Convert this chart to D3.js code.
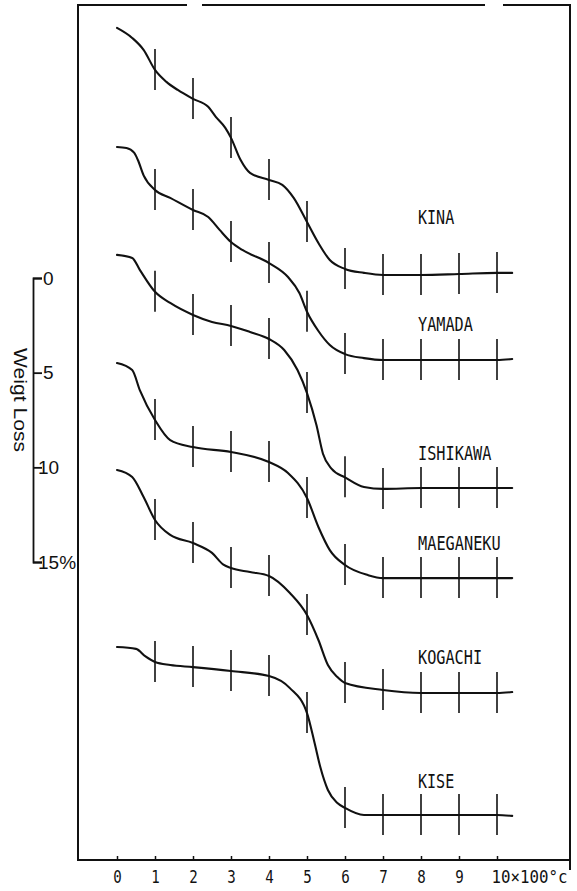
<!DOCTYPE html>
<html>
<head>
<meta charset="utf-8">
<script src="https://cdn.jsdelivr.net/npm/d3@7"></script>
<style>
  html, body { margin: 0; padding: 0; background: #fff; }
  svg { display: block; }
</style>
</head>
<body>
<svg id="chart" width="577" height="891"></svg>
<script>
// Thermogravimetric curves: weight loss (%) against temperature (x100 °C)
const seriesNames = ["KINA", "YAMADA", "ISHIKAWA", "MAEGANEKU", "KOGACHI", "KISE"];

// vertical shift of each curve, in weight-loss % units of the shared scale
const seriesShift = [-13.21, -6.92, -1.22, 4.49, 10.14, 19.49];

// [temperature (x100 °C), weight loss %]
const kina = [[0,0],[0.4,0.53],[0.7,1.16],[1,2.22],[1.3,2.85],[1.6,3.28],[2,3.75],[2.4,4.17],[2.6,4.70],[2.85,5.28],[3,5.81],[3.25,6.97],[3.5,7.66],[4,8.03],[4.35,8.29],[4.65,8.98],[5,10.25],[5.3,11.36],[5.6,12.26],[6,12.73],[6.5,12.94],[7,13.05],[8,13.05],[9,13.0],[10,12.94],[10.4,12.94]];
const yamada = [[0,0],[0.25,0.05],[0.45,0.3],[0.55,0.69],[0.7,1.5],[1,2.27],[1.4,2.69],[2,3.33],[2.4,3.70],[2.7,4.38],[3,5.02],[3.3,5.44],[4,6.13],[4.5,6.87],[4.8,7.71],[5,8.7],[5.3,9.72],[5.6,10.46],[6,10.94],[6.5,11.15],[7,11.25],[8,11.25],[9,11.25],[10,11.25],[10.4,11.2]];
const ishikawa = [[0,0],[0.4,0.16],[0.6,0.79],[1,1.95],[1.4,2.54],[2,3.17],[2.5,3.54],[3,3.75],[3.5,4.07],[4,4.44],[4.4,5.02],[4.75,6.08],[5,7.3],[5.25,9.0],[5.42,10.5],[5.65,11.3],[6,11.75],[6.5,12.26],[7,12.36],[8,12.31],[9,12.31],[10,12.31],[10.4,12.31]];
const maeganeku = [[0,0],[0.4,0.37],[0.6,1.43],[1,3.01],[1.4,4.07],[2,4.44],[3,4.70],[4,5.23],[4.5,5.81],[5,7.13],[5.3,8.66],[5.6,9.88],[6,10.67],[6.6,11.2],[7,11.36],[8,11.36],[9,11.36],[10,11.36],[10.4,11.36]];
const kogachi = [[0,0],[0.4,0.37],[0.7,1.43],[1,2.64],[1.4,3.43],[2,3.86],[2.5,4.38],[2.8,5.0],[3,5.18],[3.5,5.39],[4,5.60],[4.55,6.50],[5,7.66],[5.3,8.98],[5.55,10.30],[5.8,10.94],[6,11.25],[7,11.62],[8,11.78],[9,11.78],[10,11.78],[10.4,11.73]];
const kise = [[0,0],[0.5,0.1],[0.75,0.5],[1,0.79],[1.4,0.95],[2,1.06],[3,1.27],[4,1.53],[4.55,2.17],[5,3.49],[5.2,5.07],[5.35,6.34],[5.55,7.55],[5.8,8.24],[6,8.50],[6.5,8.87],[7,8.87],[8,8.87],[9,8.87],[10,8.87],[10.4,8.92]];
const seriesData = [kina, yamada, ishikawa, maeganeku, kogachi, kise];

// temperatures marked with a short vertical bar on every curve
const markTemps = [1, 2, 3, 4, 5, 6, 7, 8, 9, 10];

const xTicks = [0, 1, 2, 3, 4, 5, 6, 7, 8, 9, 10];
const xTickLabels = ["0", "1", "2", "3", "4", "5", "6", "7", "8", "9", "10×100°c"];
const lossTicks = [0, 5, 10, 15];
const lossTickLabels = ["0", "5", "10", "15%"];

const svg = d3.select("#chart");
const ink = "#111";

const x = d3.scaleLinear().domain([0, 10]).range([117, 497]);
const y = d3.scaleLinear().domain([0, 15]).range([278, 562]);

// frame (top edge is broken in two places)
const frame = svg.append("g").attr("stroke", ink).attr("fill", "none");
frame.append("line").attr("x1", 78).attr("x2", 78).attr("y1", 4).attr("y2", 861).attr("stroke-width", 2);
frame.append("line").attr("x1", 570).attr("x2", 570).attr("y1", 4).attr("y2", 870).attr("stroke-width", 2);
[[78, 187], [202, 485], [503, 571]].forEach(([a, b]) => {
  frame.append("line").attr("x1", a).attr("x2", b).attr("y1", 5).attr("y2", 5).attr("stroke-width", 1.8);
});
frame.append("line").attr("x1", 77).attr("x2", 571).attr("y1", 860).attr("y2", 860).attr("stroke-width", 2);

// temperature axis: small upward ticks on the bottom edge
const xAxis = d3.axisBottom(x)
  .tickValues(xTicks)
  .tickFormat((d, i) => xTickLabels[i])
  .tickSizeInner(-4)
  .tickSizeOuter(0)
  .tickPadding(10);
const xg = svg.append("g").attr("transform", "translate(0,860)").call(xAxis);
xg.select(".domain").remove();
xg.selectAll(".tick line").attr("stroke", ink).attr("stroke-width", 1.5);
xg.selectAll(".tick text")
  .attr("fill", ink)
  .attr("font-family", "'DejaVu Sans Mono', 'Liberation Mono', monospace")
  .attr("font-size", 18)
  .attr("lengthAdjust", "spacingAndGlyphs")
  .attr("textLength", (d, i) => i === xTicks.length - 1 ? 76 : 8.5);
xg.selectAll(".tick").filter((d, i) => i === xTicks.length - 1).select("text")
  .attr("text-anchor", "start")
  .attr("x", -6);

// weight-loss scale bar on the left
const lossAxis = d3.axisRight(y)
  .tickValues(lossTicks)
  .tickFormat((d, i) => lossTickLabels[i])
  .tickSizeInner(9)
  .tickSizeOuter(9)
  .tickPadding(1);
const lg = svg.append("g").attr("transform", "translate(33,0)").call(lossAxis);
lg.select(".domain").attr("stroke", ink).attr("stroke-width", 1.8);
lg.selectAll(".tick line").attr("stroke", ink).attr("stroke-width", 1.8);
lg.selectAll(".tick text")
  .attr("fill", ink)
  .attr("font-family", "'Liberation Sans', Arial, sans-serif")
  .attr("font-size", 19)
  .attr("dx", (d, i) => lossTickLabels[i].length > 1 ? -5 : 0);

svg.append("text")
  .attr("transform", "translate(14,400) rotate(90)")
  .attr("text-anchor", "middle")
  .attr("font-family", "'Liberation Sans', Arial, sans-serif")
  .attr("font-size", 19)
  .attr("fill", ink)
  .attr("textLength", 104)
  .attr("lengthAdjust", "spacingAndGlyphs")
  .text("Weigt Loss");

// curves
const plot = svg.append("g");
seriesData.forEach((data, k) => {
  const shift = seriesShift[k];
  const line = d3.line()
    .x(d => x(d[0]))
    .y(d => y(shift + d[1]))
    .curve(d3.curveMonotoneX);
  plot.append("path")
    .datum(data)
    .attr("d", line)
    .attr("fill", "none")
    .attr("stroke", ink)
    .attr("stroke-width", 2.1)
    .attr("stroke-linejoin", "round")
    .attr("stroke-linecap", "round");

  // vertical marker bars at whole hundreds of degrees
  const marks = data.filter(d => markTemps.includes(d[0]));
  plot.selectAll(null)
    .data(marks)
    .join("line")
    .attr("x1", d => x(d[0]))
    .attr("x2", d => x(d[0]))
    .attr("y1", d => y(shift + d[1]) - 21)
    .attr("y2", d => y(shift + d[1]) + 20)
    .attr("stroke", ink)
    .attr("stroke-width", 1.6);

  // sample name above the final plateau
  const last = data[data.length - 1];
  const gap = k === 0 ? 49 : 28;
  const name = seriesNames[k];
  plot.append("text")
    .attr("x", x(8) - 3)
    .attr("y", y(shift + last[1]) - gap)
    .attr("font-family", "'DejaVu Sans Mono', 'Liberation Mono', monospace")
    .attr("font-size", 20)
    .attr("fill", ink)
    .attr("lengthAdjust", "spacingAndGlyphs")
    .attr("textLength", 9.3 * name.length - 1)
    .text(name);
});
</script>
</body>
</html>
